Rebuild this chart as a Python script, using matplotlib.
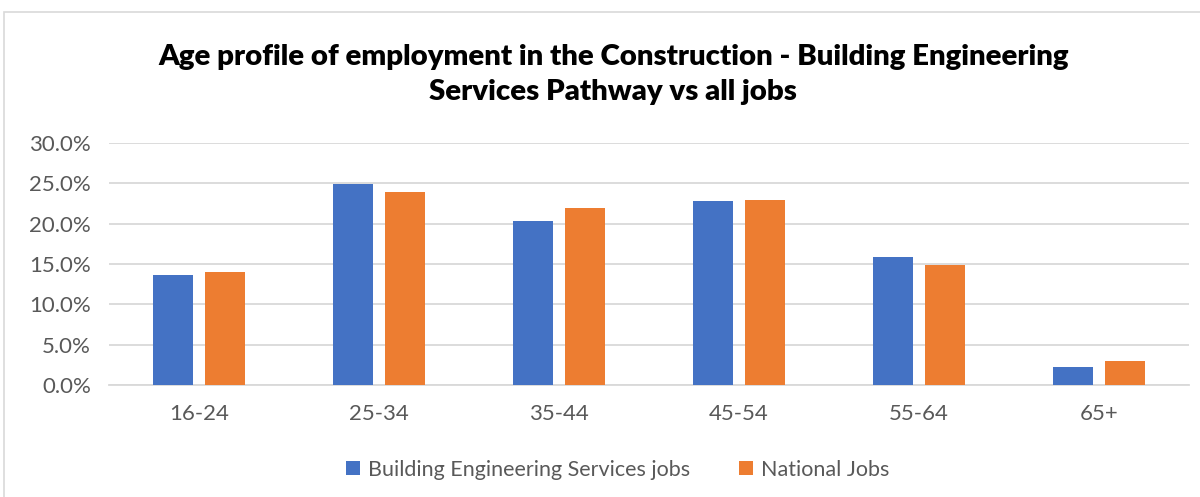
import numpy as np
import matplotlib.pyplot as plt
from matplotlib.patches import Rectangle
from matplotlib.ticker import FuncFormatter

# Datos
grupos_edad = ['16-24', '25-34', '35-44', '45-54', '55-64', '65+']
bes_jobs = [13.6, 24.9, 20.3, 22.8, 15.9, 2.2]
national_jobs = [14.0, 23.9, 21.9, 22.9, 14.9, 3.0]
nombres_series = ['Building Engineering Services jobs', 'National Jobs']
titulo = 'Age profile of employment in the Construction - Building Engineering\nServices Pathway vs all jobs'

plt.rcParams['font.family'] = ['Lato', 'DejaVu Sans']

azul = '#4472C4'
naranja = '#ED7D31'
gris_texto = '#595959'
gris_linea = '#D9D9D9'

fig = plt.figure(figsize=(12, 4.97), dpi=100)
ax = fig.add_axes([0.0908, 0.2254, 0.9, 0.4869])

# Borde del área del gráfico
fig.patches.append(Rectangle((4 / 1200, -0.05), 1.1, 1 - 12 / 497 + 0.05,
                             transform=fig.transFigure, fill=False,
                             edgecolor=gris_linea, linewidth=1.2))

x = np.arange(len(grupos_edad))
ancho = 0.222
ax.bar(x - 0.144, bes_jobs, ancho, color=azul, label=nombres_series[0], zorder=3)
ax.bar(x + 0.144, national_jobs, ancho, color=naranja, label=nombres_series[1], zorder=3)

ax.set_xlim(-0.5, len(grupos_edad) - 0.5)
ax.set_ylim(0, 30)
ax.set_yticks(np.arange(0, 31, 5))
ax.yaxis.set_major_formatter(FuncFormatter(lambda v, p: f'{v:.1f}%'))
ax.set_xticks(x)
ax.set_xticklabels(grupos_edad)

ax.grid(axis='y', color=gris_linea, linewidth=1.3, zorder=0)
for lado in ['top', 'right', 'left']:
    ax.spines[lado].set_visible(False)
ax.spines['bottom'].set_color(gris_linea)
ax.spines['bottom'].set_linewidth(1.3)
ax.tick_params(axis='both', length=0, labelsize=16, colors=gris_texto)
ax.tick_params(axis='x', pad=14)
ax.tick_params(axis='y', pad=13)

fig.text(0.511, 0.85, titulo, ha='center', va='center', fontsize=21.2,
         fontweight='heavy', color='black', linespacing=1.42)

fig.legend(loc='center', bbox_to_anchor=(0.5146, 0.055), ncol=2, frameon=False,
           fontsize=15.5, labelcolor=gris_texto, handlelength=0.65, handleheight=0.65,
           handletextpad=0.35, columnspacing=2.3)

fig.savefig('out.png', dpi=100)
